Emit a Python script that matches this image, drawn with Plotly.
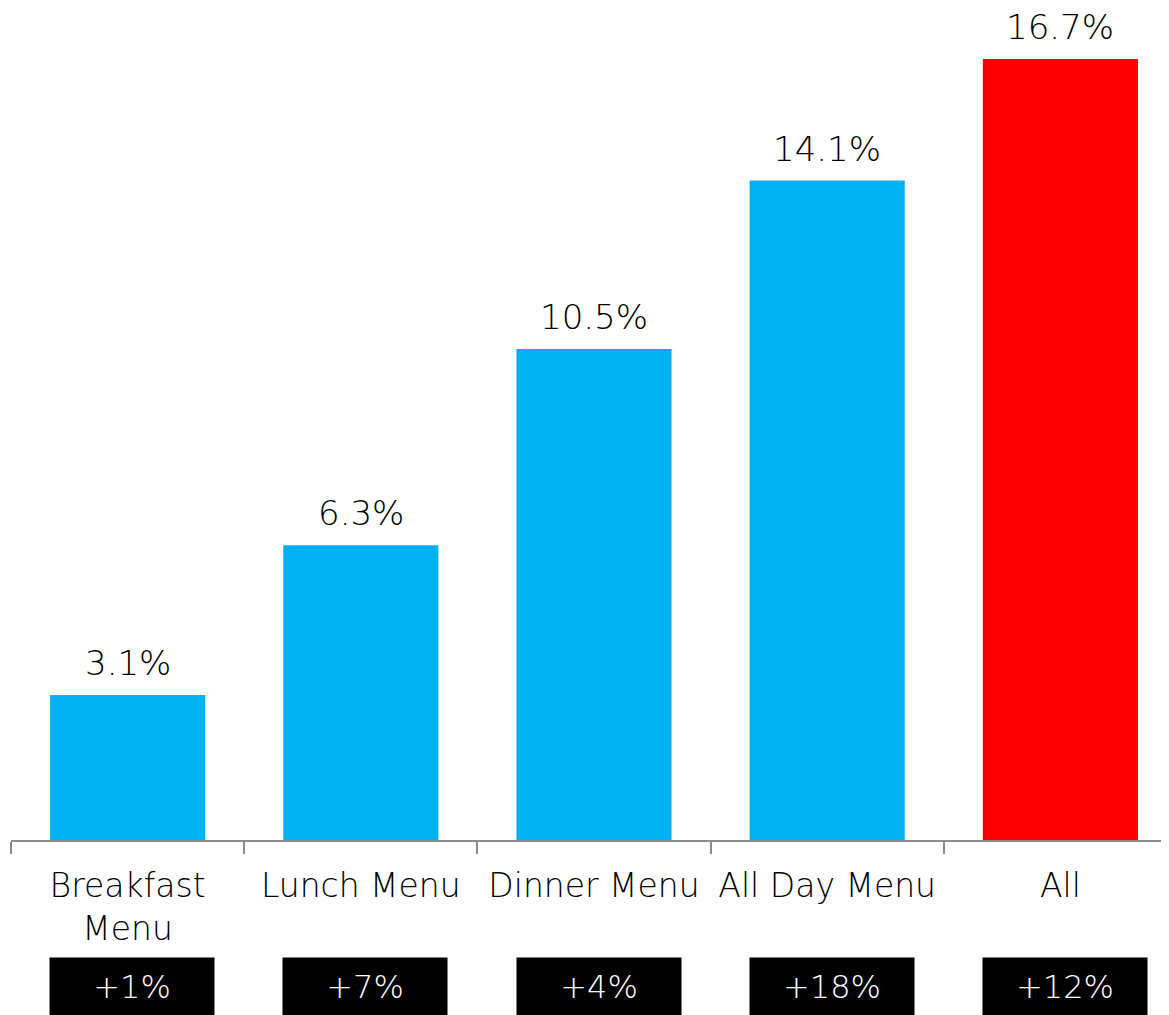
import plotly.graph_objects as go

categories = ["Breakfast<br>Menu", "Lunch Menu", "Dinner Menu", "All Day Menu", "All"]
values = [3.1, 6.3, 10.5, 14.1, 16.7]
value_labels = ["3.1%", "6.3%", "10.5%", "14.1%", "16.7%"]
changes = ["+1%", "+7%", "+4%", "+18%", "+12%"]
colors = ["#00B0F0", "#00B0F0", "#00B0F0", "#00B0F0", "#FF0000"]

FONT = "'DejaVu Sans', sans-serif"
PX_PER_UNIT = 46.77
PLOT_H = 832

fig = go.Figure(go.Bar(
    x=categories,
    y=values,
    marker=dict(color=colors, line=dict(width=0)),
    cliponaxis=False,
    width=0.665,
))

for cat, v, lab in zip(categories, values, value_labels):
    fig.add_annotation(
        x=cat, xref="x", y=v, yref="y",
        yanchor="bottom", xanchor="center",
        yshift=10,
        text=lab, showarrow=False,
        font=dict(size=34, color="#000000", family=FONT, weight=200),
    )

for cat, c in zip(categories, changes):
    fig.add_annotation(
        x=cat, xref="x", y=0, yref="y",
        yanchor="top", xanchor="center",
        xshift=4.5, yshift=-117,
        text=c, showarrow=False,
        font=dict(size=32, color="white", family=FONT, weight=200),
        bgcolor="black", width=164, height=58,
        borderpad=0,
    )

fig.update_layout(
    width=1169, height=1015,
    margin=dict(l=3, r=0, t=0, b=1015 - PLOT_H),
    plot_bgcolor="white", paper_bgcolor="white",
    showlegend=False,
    font=dict(family=FONT, color="#000000"),
)
fig.update_xaxes(
    type="category",
    range=[-0.5, 4.5],
    tickson="boundaries",
    ticks="outside", ticklen=12, tickwidth=2, tickcolor="#8c8c8c",
    showline=True, linecolor="#8c8c8c", linewidth=2,
    showgrid=False, zeroline=False,
    ticklabelstandoff=15,
    tickfont=dict(size=33, color="#000000", family=FONT, weight=200),
)
fig.update_yaxes(
    range=[0, PLOT_H / PX_PER_UNIT],
    visible=False, showgrid=False, zeroline=False,
)

fig.write_html("out.html")
